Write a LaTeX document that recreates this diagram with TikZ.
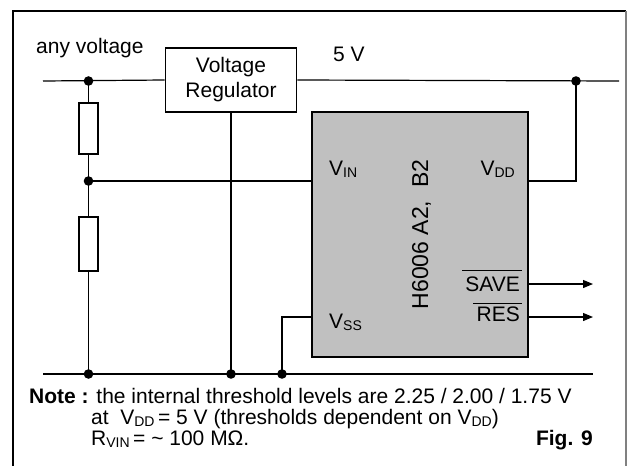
\documentclass[tikz,border=0pt]{standalone}
\usepackage{fontspec}
\setmainfont{Liberation Sans}
\usetikzlibrary{arrows.meta}
\definecolor{chipgray}{HTML}{C0C0C0}
\newcommand\lsub[1]{\raisebox{-2.5pt}{\fontsize{14}{14}\selectfont #1}}
\begin{document}
\begin{tikzpicture}[x=1pt,y=-1pt, font=\fontsize{21}{25}\selectfont,
  wire/.style={line width=1.2pt},
  box/.style={draw, line width=1.8pt, inner sep=0pt},
  lbl/.style={inner sep=0pt},
  arr/.style={wire, -{Triangle[length=10pt,width=8pt]}}]
\useasboundingbox (0,0) rectangle (627,466);
\draw[line width=2pt] (13,466) -- (13,11) -- (626,11);
\draw[line width=1.5pt, gray] (626,11) -- (626,466);
% blocks
\node[box, minimum width=131pt, minimum height=64pt, align=center] (reg) at (231,80) {Voltage\\Regulator};
\node[box, fill=chipgray, minimum width=216pt, minimum height=245pt] (chip) at (420,234.5) {};
\node[lbl, rotate=90, font=\fontsize{23}{25}\selectfont] (chipname) at (421.5,234.5) {H6006 A2,\ \ B2};
\node[box, minimum width=19pt, minimum height=51pt] (r1) at (88.5,128.5) {};
\node[box, minimum width=19pt, minimum height=54pt] (r2) at (88.5,244) {};
% coordinates
\coordinate (inL) at (43,81);
\coordinate (outR) at (619,81);
\coordinate (jA) at (88.5,81);
\coordinate (jB) at (576,81);
\coordinate (jM) at (88.5,181);
\coordinate (gL) at (43,374);
\coordinate (gR) at (593,374);
\coordinate (g1) at (88.5,374);
\coordinate (g2) at (231,374);
\coordinate (g3) at (282,374);
\coordinate (vinp) at (312,181);
\coordinate (vddp) at (528,181);
\coordinate (vssp) at (312,317);
\coordinate (savep) at (528,284);
\coordinate (saveo) at (593,284);
\coordinate (resp) at (528,317);
\coordinate (reso) at (593,317);
% wires
\draw[wire] (inL) -- (reg.west);
\draw[wire] (reg.east) -- (outR);
\draw[wire] (jA) -- (r1.north);
\draw[wire] (r1.south) -- (jM) -- (r2.north);
\draw[wire] (r2.south) -- (g1);
\draw[wire] (jM) -- (vinp);
\draw[wire] (gL) -- (gR);
\draw[wire] (reg.south) -- (g2);
\draw[wire] (g3) |- (vssp);
\draw[wire] (vddp) -| (jB);
\draw[arr] (savep) -- (saveo);
\draw[arr] (resp) -- (reso);
\foreach \p in {jA,jB,jM,g1,g2,g3} \fill (\p) circle (4.8pt);
% labels
\node[lbl, anchor=base west] (anyv) at (36,53) {any voltage};
\node[lbl, anchor=base west] (fivev) at (333,61) {5 V};
\node[lbl, anchor=base west] (vinl) at (329,175) {V\lsub{IN}};
\node[lbl, anchor=base east] (vddl) at (515,175) {V\lsub{DD}};
\node[lbl, anchor=base west] (vssl) at (329,328) {V\lsub{SS}};
\node[lbl, anchor=base east] (savel) at (520,291) {SAVE};
\node[lbl, anchor=base east] (resl) at (520,321) {RES};
\draw[wire] ([xshift=-3pt,yshift=6pt]savel.north west) -- ([xshift=2pt,yshift=6pt]savel.north east);
\draw[wire] ([xshift=-3pt,yshift=3pt]resl.north west) -- ([xshift=2pt,yshift=3pt]resl.north east);
\node[lbl, anchor=base west] (note1) at (29,403) {\textbf{Note :} the internal threshold levels are 2.25 / 2.00 / 1.75 V};
\node[lbl, anchor=base west] (note2) at (91,424) {at\ \ V\lsub{DD}\,= 5 V (thresholds dependent on V\lsub{DD})};
\node[lbl, anchor=base west] (note3) at (91,445) {R\lsub{VIN}\,= \textasciitilde{} 100 MΩ.};
\node[lbl, anchor=base east] (fig) at (593,445) {\textbf{Fig. 9}};
\end{tikzpicture}
\end{document}
